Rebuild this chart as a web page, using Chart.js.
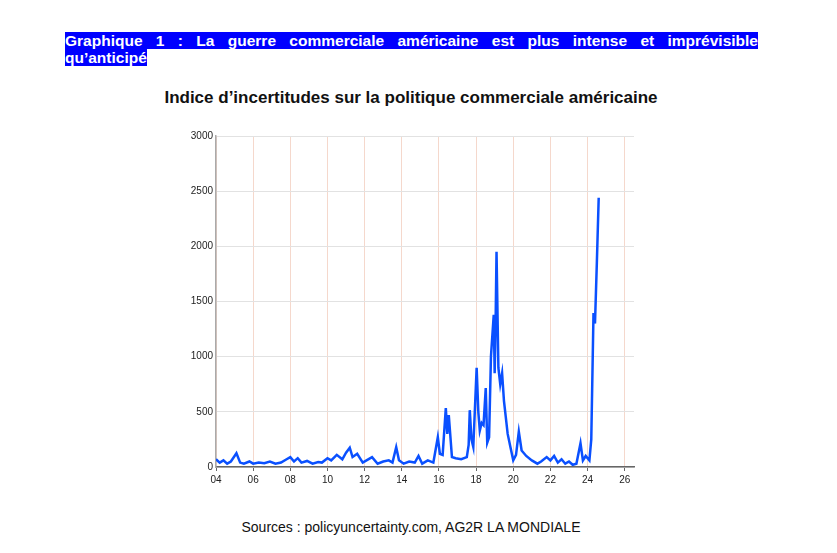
<!DOCTYPE html>
<html>
<head>
<meta charset="utf-8">
<script src="https://cdn.jsdelivr.net/npm/chart.js@4"></script>
<style>
  body { margin: 0; width: 837px; height: 553px; background: #fff; font-family: "Liberation Sans", Arial, sans-serif; position: relative; }
  .hd { position: absolute; left: 65px; font-size: 15.5px; font-weight: bold; color: #fff; line-height: 17px; background: #0000ff; }
  #h1 { top: 32px; width: 693px; text-align: justify; text-align-last: justify; }
  #h2 { top: 49px; }
  #title { position: absolute; left: 0; width: 822px; top: 88px; text-align: center; font-size: 17px; font-weight: bold; color: #111; }
  #src { position: absolute; left: 0; width: 822px; top: 519px; text-align: center; font-size: 14px; color: #111; }
  #box { position: absolute; left: 170px; top: 126px; width: 470px; height: 365px; }
</style>
</head>
<body>
<div class="hd" id="h1">Graphique 1 : La guerre commerciale américaine est plus intense et imprévisible</div>
<div class="hd" id="h2">qu’anticipé</div>
<div id="title">Indice d’incertitudes sur la politique commerciale américaine</div>
<div id="box"><canvas id="c"></canvas></div>
<div id="src">Sources : policyuncertainty.com, AG2R LA MONDIALE</div>
<script>
// Indice (années en décimal depuis 2000)
var years = [4.0,4.2,4.4,4.6,4.8,5.0,5.1,5.3,5.5,5.8,6.0,6.3,6.6,6.9,7.2,7.5,7.8,8.0,8.2,8.4,8.6,8.9,9.2,9.5,9.7,10.0,10.2,10.5,10.8,11.0,11.2,11.35,11.6,11.9,12.1,12.4,12.7,13.0,13.3,13.5,13.7,13.85,14.1,14.4,14.7,14.9,15.1,15.4,15.7,15.94,16.05,16.2,16.37,16.45,16.53,16.7,16.9,17.2,17.5,17.6,17.66,17.75,17.85,18.03,18.12,18.2,18.3,18.4,18.52,18.6,18.7,18.8,18.95,19.0,19.05,19.1,19.2,19.3,19.4,19.5,19.6,19.7,19.85,20.0,20.15,20.3,20.45,20.7,21.0,21.3,21.5,21.8,22.0,22.2,22.4,22.6,22.8,23.0,23.2,23.4,23.62,23.75,23.9,24.1,24.2,24.32,24.4,24.5,24.6];
var indice = [70,40,60,30,50,100,125,40,30,50,30,40,35,50,30,40,70,90,50,80,40,55,30,45,40,80,60,110,70,130,175,90,120,40,60,90,30,50,60,40,180,60,30,50,40,100,30,60,40,270,120,110,535,300,470,90,80,70,90,200,515,250,180,900,500,330,400,380,715,220,270,1000,1380,850,1300,1950,900,750,850,600,450,300,180,60,110,320,150,100,60,30,50,90,60,100,40,70,30,50,20,30,215,60,100,60,250,1395,1300,1850,2440];
var xTicks = [4,6,8,10,12,14,16,18,20,22,24,26];

var pts = years.map(function (x, i) { return { x: x, y: indice[i] }; });

new Chart(document.getElementById('c'), {
  type: 'line',
  data: { datasets: [{ data: pts, borderColor: '#0a50ff', borderWidth: 2.5, pointRadius: 0, tension: 0, fill: false }] },
  options: {
    responsive: true, maintainAspectRatio: false, animation: false,
    layout: { padding: { top: 10, right: 6 } },
    plugins: { legend: { display: false }, tooltip: { enabled: false } },
    scales: {
      x: {
        type: 'linear', min: 4, max: 26.5,
        afterBuildTicks: function (s) { s.ticks = xTicks.map(function (v) { return { value: v }; }); },
        afterFit: function (s) { s.height = 24; },
        ticks: { font: { family: 'Liberation Sans', size: 10 }, color: '#222', maxRotation: 0,
          callback: function (v) { return (v < 10 ? '0' : '') + v; } },
        grid: { color: '#f5d8cc', tickColor: '#666', tickLength: 4 },
        border: { color: '#666', width: 1.5 }
      },
      y: {
        min: 0, max: 3000,
        afterFit: function (s) { s.width = 46; },
        ticks: { stepSize: 500, font: { family: 'Liberation Sans', size: 10 }, color: '#222',
          callback: function (v) { return String(v); } },
        grid: { color: '#e2e2e2', drawTicks: false },
        border: { color: '#aaa', width: 1.5 }
      }
    }
  }
});
</script>
</body>
</html>
